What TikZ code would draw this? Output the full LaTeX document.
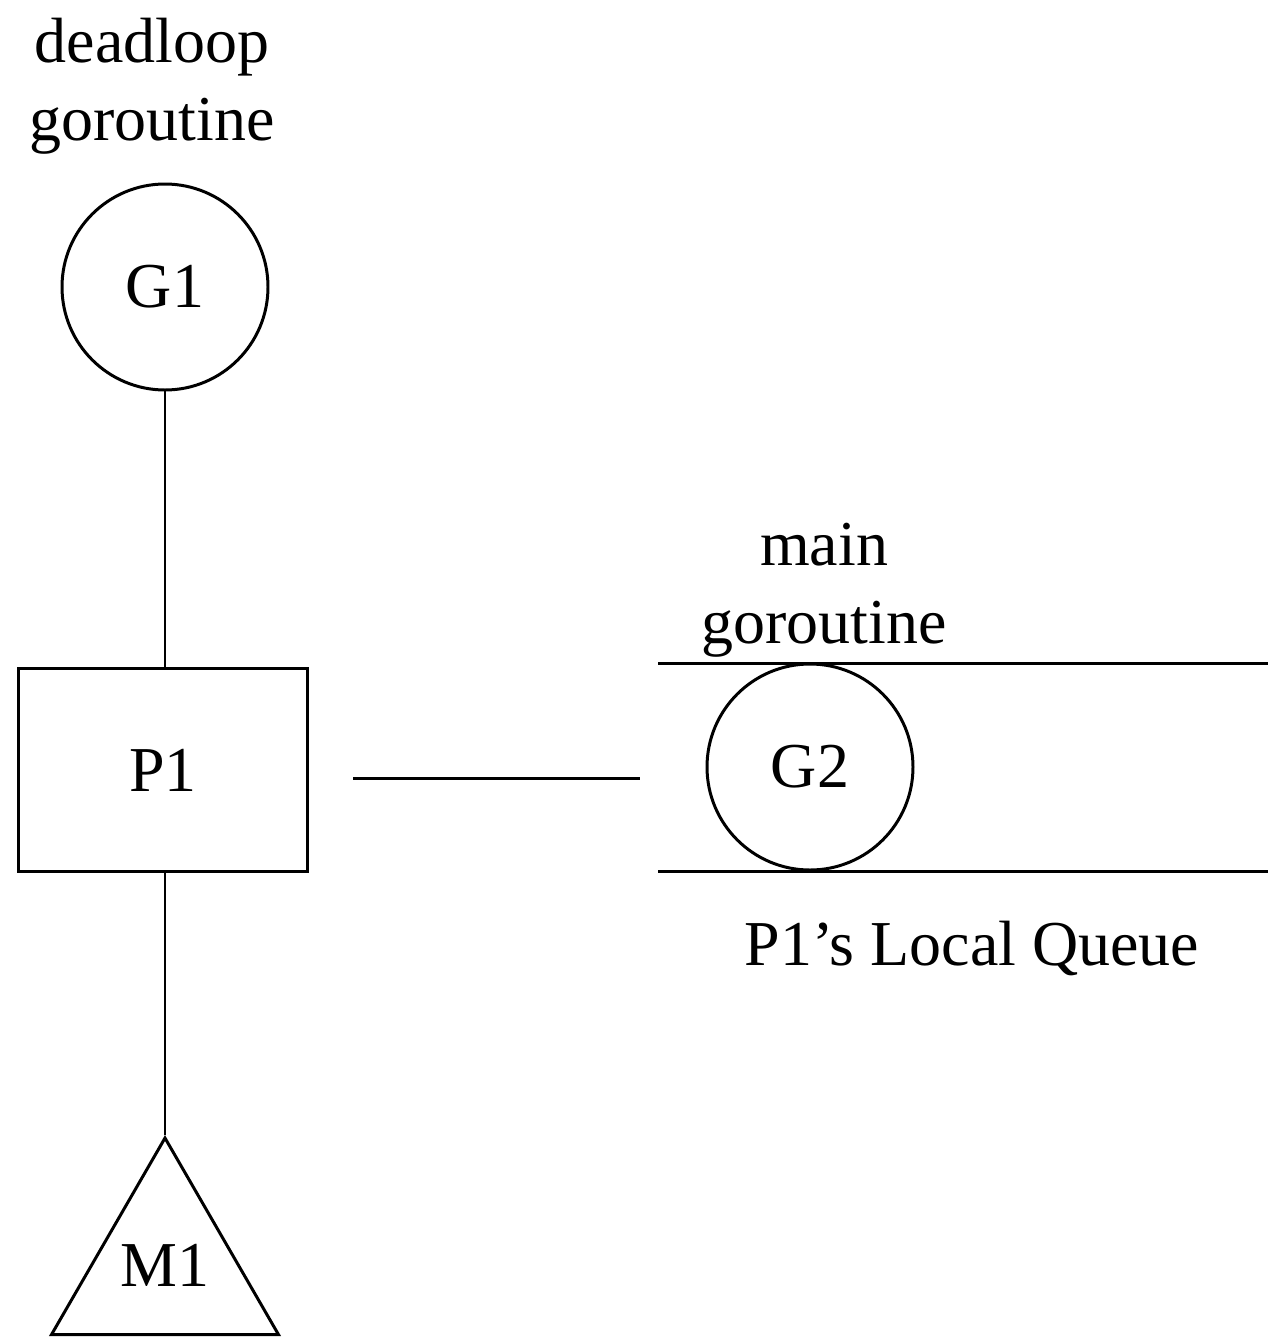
\documentclass[tikz,border=0pt]{standalone}
\usepackage{fontspec}
\setmainfont{Liberation Serif}
\usepackage{tikz}
\usetikzlibrary{shapes.geometric}

\tikzset{
  gnode/.style={draw, circle, line width=0.85pt, minimum size=2.06cm, inner sep=0pt},
  pnode/.style={draw, rectangle, line width=0.85pt, minimum width=2.89cm, minimum height=2.03cm, inner sep=0pt},
  mnode/.style={draw, regular polygon, regular polygon sides=3, line width=0.85pt, minimum size=2.62cm, inner sep=0pt},
  lbl/.style={inner sep=0pt, align=center, font=\fontsize{18.2}{22.2}\selectfont}
}

\begin{document}
\begin{tikzpicture}[x=0.1mm,y=-0.1mm,font=\fontsize{18.2}{22.2}\selectfont]
\useasboundingbox (0,0) rectangle (1284,1338);

\node [gnode] (G1) at (165,287) {G1};
\node [pnode] (P1) at (163,770) {P1};
\node [mnode] (M1) at (165,1269) {};
\node [lbl] (m1txt) at (165,1265) {M1};
\node [lbl] (deadtxt) at (152,86) {deadloop\\goroutine};

\draw [line width=0.85pt] (G1) -- (G1 |- P1.north);
\draw [line width=0.85pt] (M1.corner 1 |- P1.south) -- (M1.corner 1);

% local queue of P1
\coordinate (qtl) at (658,663); \coordinate (qtr) at (1268,663);
\coordinate (qbl) at (658,871); \coordinate (qbr) at (1268,871);
\draw [line width=0.85pt] (qtl) -- (qtr);
\draw [line width=0.85pt] (qbl) -- (qbr);
\node [gnode] (G2) at (810,767) {G2};
\node [lbl] (maintxt) at (824,590) {main\\goroutine};
\node [lbl, anchor=base] (qtxt) at (972,965) {P1’s Local Queue};

\coordinate (pa) at (353,778); \coordinate (pb) at (640,778);
\draw [line width=0.85pt] (pa) -- (pb);

\end{tikzpicture}
\end{document}
